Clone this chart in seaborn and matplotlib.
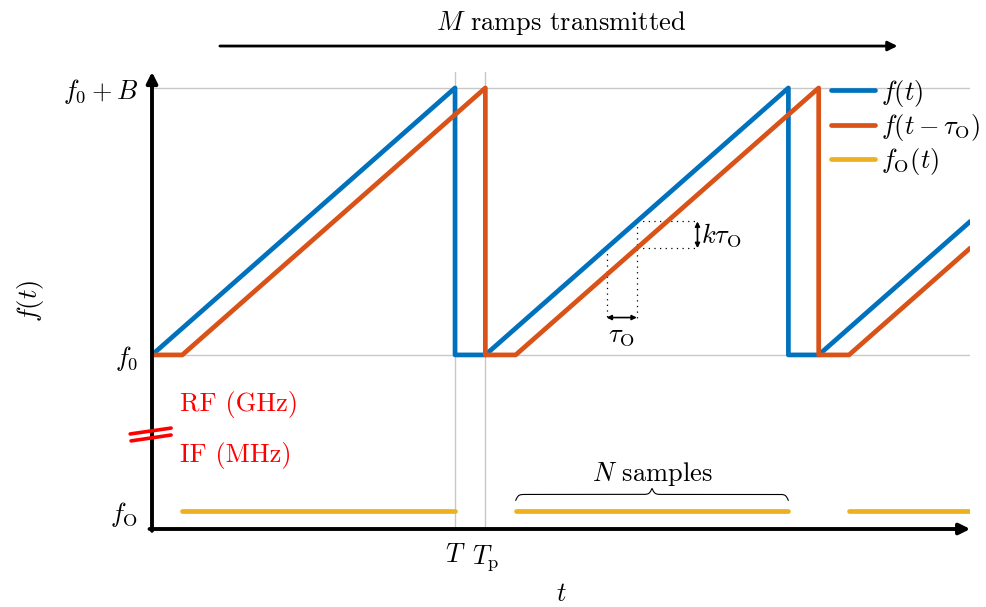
import numpy as np
import pandas as pd
import matplotlib
matplotlib.use("Agg")
import matplotlib.pyplot as plt
import seaborn as sns

# FMCW ramps: transmitted f(t), delayed echo f(t - tau_O), IF beat f_O(t)
T = 1.0
T_p = 1.1
tau = 0.1

tx_t = [0.0, 1.0, 1.0, 1.1, 2.1, 2.1, 2.2, 2.7]
tx_f = [0.0, 1.0, 0.0, 0.0, 1.0, 0.0, 0.0, 0.5]

rx_t = [0.0, 0.1, 1.1, 1.1, 1.2, 2.2, 2.2, 2.3, 2.7]
rx_f = [0.0, 0.0, 1.0, 0.0, 0.0, 1.0, 0.0, 0.0, 0.4]

if_start = [0.1, 1.2, 2.3]
if_end = [1.0, 2.1, 2.7]
f_O = -0.584

labels = ["$f(t)$", r"$f(t-\tau_{\mathrm{O}})$", r"$f_{\mathrm{O}}(t)$"]
colors = ["#0072BD", "#D95319", "#EDB120"]

sns.set_style("white")
plt.rcParams["font.family"] = ["cmr10", "DejaVu Serif"]
plt.rcParams["mathtext.fontset"] = "cm"
plt.rcParams["axes.unicode_minus"] = False
plt.rcParams["text.color"] = "black"
plt.rcParams["axes.labelcolor"] = "black"
plt.rcParams["xtick.labelcolor"] = "black"
plt.rcParams["ytick.labelcolor"] = "black"
FS = 19

# long-form table
rows = []
for t, f in zip(tx_t, tx_f):
    rows.append((labels[0], 0, t, f))
for t, f in zip(rx_t, rx_f):
    rows.append((labels[1], 0, t, f))
for i, (a, b) in enumerate(zip(if_start, if_end)):
    rows.append((labels[2], i, a, f_O))
    rows.append((labels[2], i, b, f_O))
df = pd.DataFrame(rows, columns=["signal", "seg", "t", "f"])

fig = plt.figure(figsize=(9.87, 6.07), dpi=100)
ax = fig.add_axes([0.154, 0.1285, 0.829, 0.753])

sns.lineplot(data=df, x="t", y="f", hue="signal", hue_order=labels,
             palette=colors, units="seg", estimator=None, sort=False,
             lw=3.4, ax=ax, legend=True, zorder=3)

ax.set_xlim(0, 2.7)
ax.set_ylim(-0.652, 1.06)

# grid only at f0, f0+B and T, Tp
for y in [0.0, 1.0]:
    ax.axhline(y, color="#c8c8c8", lw=1, zorder=1)
ax.set_xticks([T, T_p])
ax.set_xticklabels(["$T$", r"$T_{\mathrm{p}}$"], fontsize=FS)
ax.set_yticks([f_O, 0.0, 1.0])
ax.set_yticklabels([r"$f_{\mathrm{O}}$", "$f_0$", "$f_0+B$"], fontsize=FS)
ax.grid(axis="x", color="#c8c8c8", lw=1)
ax.grid(axis="y", visible=False)
ax.tick_params(length=5, width=1, color="#b0b0b0", pad=5)

for s in ax.spines.values():
    s.set_visible(False)
ax.annotate("", xy=(0, 1.0), xytext=(0, -0.004), xycoords="axes fraction",
            arrowprops=dict(arrowstyle="-|>", lw=2.8, color="black",
                            mutation_scale=16, shrinkA=0, shrinkB=0))
ax.annotate("", xy=(1.0, 0), xytext=(-0.003, 0), xycoords="axes fraction",
            arrowprops=dict(arrowstyle="-|>", lw=2.8, color="black",
                            mutation_scale=16, shrinkA=0, shrinkB=0))

ax.set_xlabel("$t$", fontsize=FS)
ax.xaxis.set_label_coords(0.5, -0.143)
ax.xaxis.label.set_va("center")
ax.set_ylabel("$f(t)$", fontsize=FS)
ax.yaxis.set_label_coords(-0.149, 0.5)
ax.yaxis.label.set_va("center")

# M ramps arrow
ax.annotate("", xy=(2.46, 1.157), xytext=(0.224, 1.157), annotation_clip=False,
            arrowprops=dict(arrowstyle="-|>", lw=2, color="black",
                            mutation_scale=14, shrinkA=0, shrinkB=0))
ax.text(1.35, 1.245, "$M$ ramps transmitted", ha="center", va="center",
        fontsize=FS, clip_on=False)

# tau_O / k tau_O construction
dot = dict(color="black", lw=0.9, ls=(0, (1, 3.5)))
ax.plot([1.5, 1.5], [0.4, 0.14], **dot)
ax.plot([1.6, 1.6], [0.5, 0.14], **dot)
ax.plot([1.6, 1.8], [0.5, 0.5], **dot)
ax.plot([1.6, 1.8], [0.4, 0.4], **dot)
ax.annotate("", xy=(1.5, 0.14), xytext=(1.6, 0.14),
            arrowprops=dict(arrowstyle="<|-|>", lw=1.2, color="black",
                            mutation_scale=7, shrinkA=0, shrinkB=0))
ax.annotate("", xy=(1.8, 0.4), xytext=(1.8, 0.5),
            arrowprops=dict(arrowstyle="<|-|>", lw=1.2, color="black",
                            mutation_scale=7, shrinkA=0, shrinkB=0))
ax.text(1.55, 0.07, r"$\tau_{\mathrm{O}}$", ha="center", va="center", fontsize=FS)
ax.text(1.81, 0.45, r"$k\tau_{\mathrm{O}}$", ha="left", va="center", fontsize=FS)

# N samples brace
bx = np.linspace(1.2, 2.1, 401)
half = bx[:201]
beta = 220.0
yb = 1 / (1 + np.exp(-beta * (half - half[0]))) + 1 / (1 + np.exp(-beta * (half - half[-1])))
yb = np.concatenate([yb, yb[-2::-1]])
ax.plot(bx, -0.545 + (yb - 0.5) * 0.045, color="black", lw=0.8)
ax.text(1.65, -0.445, "$N$ samples", ha="center", va="center", fontsize=FS)

# RF / IF axis break
ax.plot([-0.072, 0.063], [-0.296, -0.274], color="red", lw=2.6, clip_on=False, zorder=5)
ax.plot([-0.069, 0.063], [-0.322, -0.3], color="red", lw=2.6, clip_on=False, zorder=5)
ax.text(0.092, -0.187, "RF (GHz)", color="red", ha="left", va="center", fontsize=FS)
ax.text(0.092, -0.375, "IF (MHz)", color="red", ha="left", va="center", fontsize=FS)

handles, labs = ax.get_legend_handles_labels()
ax.legend(handles, labs, loc="upper left", bbox_to_anchor=(0.842, 0.872),
          bbox_transform=fig.transFigure, frameon=False, fontsize=FS,
          handlelength=1.65, handletextpad=0.25, labelspacing=0.12,
          borderaxespad=0, borderpad=0)

fig.savefig("out.png", dpi=100)
